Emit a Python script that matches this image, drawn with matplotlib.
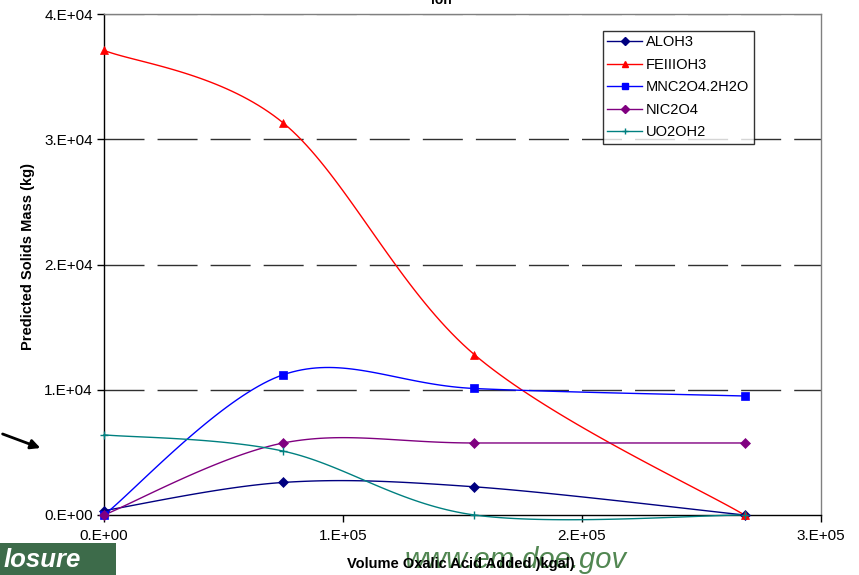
import numpy as np
import matplotlib
matplotlib.use("Agg")
import matplotlib.pyplot as plt
from matplotlib.patches import FancyArrowPatch, Rectangle

plt.rcParams['font.family'] = ['Liberation Sans', 'DejaVu Sans']

x_vals = [0, 75000, 155000, 268000]
aloh3 = [350, 2600, 2250, 0]
feiiioh3 = [37100, 31300, 12800, 0]
mnc2o4 = [0, 11200, 10100, 9500]
nic2o4 = [0, 5750, 5750, 5750]
uo2oh2 = [6400, 5100, 0, 0]

series = [
    ("ALOH3", aloh3, "#000080", "D", 5),
    ("FEIIIOH3", feiiioh3, "#FF0000", "^", 6),
    ("MNC2O4.2H2O", mnc2o4, "#0000FF", "s", 5.5),
    ("NIC2O4", nic2o4, "#800080", "D", 5),
    ("UO2OH2", uo2oh2, "#008080", "+", 6),
]

y_ticks = [0, 10000, 20000, 30000, 40000]
y_labels = ["0.E+00", "1.E+04", "2.E+04", "3.E+04", "4.E+04"]
x_ticks = [0, 100000, 200000, 300000]
x_labels = ["0.E+00", "1.E+05", "2.E+05", "3.E+05"]


def smooth(xs, ys, n=40):
    xs = np.asarray(xs, float); ys = np.asarray(ys, float)
    P = np.column_stack([xs / 1e5, ys / 1e4])
    out = []
    m = len(P)
    for i in range(m - 1):
        p0 = P[i - 1] if i > 0 else P[i]
        p1 = P[i]
        p2 = P[i + 1]
        p3 = P[i + 2] if i + 2 < m else P[i + 1]
        c1 = p1 + (p2 - p0) / 6
        c2 = p2 - (p3 - p1) / 6
        t = np.linspace(0, 1, n)[:, None]
        seg = ((1 - t) ** 3) * p1 + 3 * ((1 - t) ** 2) * t * c1 + 3 * (1 - t) * t ** 2 * c2 + t ** 3 * p2
        out.append(seg if i == 0 else seg[1:])
    S = np.vstack(out)
    return S[:, 0] * 1e5, S[:, 1] * 1e4


fig = plt.figure(figsize=(8.59, 5.75), dpi=100)
ax = fig.add_axes([104 / 859, 1 - 515 / 575, (821 - 104) / 859, (515 - 14) / 575])

ax.set_xlim(0, 300000)
ax.set_ylim(0, 40000)

for yv in y_ticks[1:]:
    ax.axhline(yv, color="#303030", lw=1.0, dashes=(28.8, 9.4), zorder=1,
               alpha=1.0 if yv < 40000 else 0.5)

for name, ys, col, mk, ms in series:
    sx, sy = smooth(x_vals, ys)
    ax.plot(sx, sy, color=col, lw=1.0, clip_on=False, zorder=3)
    ax.plot(x_vals, ys, linestyle="none", marker=mk, color=col, ms=ms,
            mew=1.0 if mk == "+" else 0.5, clip_on=False, zorder=4)
    ax.plot([], [], color=col, marker=mk, ms=ms - 1, lw=1.0, label=name)

ax.set_yticks(y_ticks)
ax.set_yticklabels(y_labels, fontsize=11)
ax.set_xticks(x_ticks)
ax.set_xticklabels(x_labels, fontsize=11)
ax.tick_params(axis="both", direction="out", length=5, width=1, pad=3)
ax.tick_params(axis="x", pad=5)

for s in ["left", "bottom"]:
    ax.spines[s].set_color("black")
    ax.spines[s].set_linewidth(1.0)
for s in ["top", "right"]:
    ax.spines[s].set_color("#808080")
    ax.spines[s].set_linewidth(1.0)

fig.text(28 / 859, 1 - 256 / 575, "Predicted Solids Mass (kg)", fontsize=10.5,
         fontweight="bold", rotation=90, ha="center", va="center")

# watermark and decorations from the source image
fig.text(516 / 859, 1 - 560 / 575, "www.em.doe.gov", fontsize=21, color="#3f7a3f",
         fontstyle="italic", ha="center", va="center", alpha=0.9, zorder=0)
fig.text(461 / 859, 1 - 564 / 575, "Volume Oxalic Acid Added )kgal)", fontsize=10.5,
         fontweight="bold", ha="center", va="center", zorder=5)

leg = ax.legend(loc="upper left", bbox_to_anchor=((603 - 104) / 717, (515 - 31) / 501),
                fontsize=10.5, frameon=True, fancybox=False, handlelength=2.4,
                borderpad=0.3, labelspacing=0.58, handletextpad=0.25, borderaxespad=0)
leg.get_frame().set_edgecolor("black")
leg.get_frame().set_linewidth(1.0)

fig.text(441 / 859, 1 - 0 / 575, "ion", fontsize=10, fontweight="bold", ha="center", va="center")

fig.patches.append(Rectangle((0, 0), 116 / 859, 32 / 575, transform=fig.transFigure,
                             facecolor="#3d6b4a", edgecolor="none", zorder=0))
fig.text(4 / 859, 1 - 560 / 575, "losure", fontsize=18.5, color="white", fontstyle="italic",
         fontweight="bold", ha="left", va="center")
fig.patches.append(FancyArrowPatch((0 / 859, 1 - 433 / 575), (43 / 859, 1 - 449 / 575),
                                   transform=fig.transFigure, arrowstyle="-|>",
                                   mutation_scale=14, color="black", lw=2))

fig.savefig("out.png", dpi=100)
